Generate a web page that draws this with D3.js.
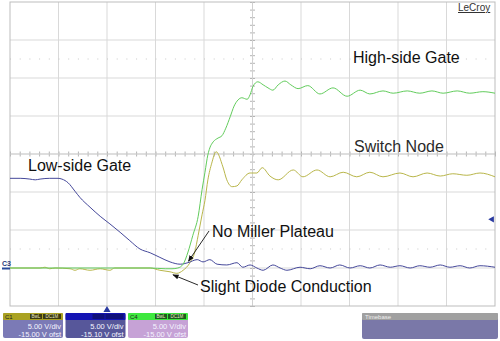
<!DOCTYPE html>
<html>
<head>
<meta charset="utf-8">
<style>
  body { margin: 0; background: #fff; }
  svg { display: block; font-family: "Liberation Sans", Arial, sans-serif; }
</style>
</head>
<body>
<script src="https://d3js.org/d3.v7.min.js"></script>
<script>
    // time in screen divisions (10 across), volts at 5 V/div, 0 V three divs under centre
    const switchNode = [
        [0, 0], [0.62, 0], [0.72, 0.1], [0.82, -0.1], [0.93, 0], [1.24, -0.1], [1.34, -0.3],
        [1.44, -0.1], [1.65, -0.3], [1.86, -0.1], [2.06, -0.3], [2.16, 0], [2.89, 0],
        [3.09, -0.3], [3.30, -0.5], [3.44, -0.7], [3.57, -0.3], [3.71, 0.7], [3.81, 2.1],
        [3.88, 4.3], [3.96, 7.0], [4.02, 8.9], [4.08, 11.6], [4.16, 13.8], [4.25, 15.3],
        [4.39, 13.3], [4.47, 11.6], [4.58, 10.7], [4.68, 10.8], [4.78, 11.6],
        [4.95, 12.5], [5.09, 12.5], [5.20, 13.2], [5.36, 12.1], [5.53, 11.6], [5.84, 12.9],
        [6.04, 12.0], [6.33, 12.9], [6.60, 12.0], [6.87, 12.6], [7.15, 12.0], [7.42, 12.6],
        [7.69, 12.0], [8.04, 12.5], [8.31, 12.0], [8.60, 12.5], [8.87, 12.1], [9.13, 12.4],
        [9.42, 12.2], [9.69, 12.5], [10, 12.0]
    ];

    const lowSideGate = [
        [0, 11.8], [0.21, 11.8], [0.41, 11.7], [0.52, 11.6], [0.62, 11.7], [0.82, 11.8],
        [0.99, 11.8], [1.07, 11.7], [1.20, 11.2], [1.34, 10.1], [1.44, 9.3], [1.65, 8.0],
        [1.86, 6.8], [2.06, 5.8], [2.27, 4.7], [2.47, 3.6], [2.68, 2.5], [2.89, 2.0],
        [3.09, 1.4], [3.30, 0.8], [3.51, 0.5], [3.67, 0.7], [3.86, 1.1], [3.98, 0.8],
        [4.12, 1.1], [4.27, 0.5], [4.47, 0.4], [4.68, 0.7], [4.80, 0.1], [4.95, 0.4],
        [5.09, 0], [5.22, -0.3], [5.42, 0.4], [5.57, 0], [5.71, -0.3], [5.98, 0.1],
        [6.19, -0.1], [6.39, 0.3], [6.60, 0], [6.80, 0.4], [7.01, 0], [7.22, 0.3],
        [7.42, 0], [7.63, 0.4], [7.84, 0.1], [8.04, 0.3], [8.25, 0], [8.45, 0.3],
        [8.66, 0.1], [8.87, 0.4], [9.07, 0.1], [9.28, 0.3], [9.48, 0], [9.69, 0.3], [10, 0.1]
    ];

    const highSideGate = [
        [0, 0], [0.82, 0], [1.86, 0], [2.89, 0], [3.20, -0.1], [3.34, -0.1], [3.46, 0],
        [3.57, 0.5], [3.67, 2.1], [3.77, 4.3], [3.88, 6.8], [3.96, 10.3], [4.02, 12.6],
        [4.08, 14.9], [4.12, 15.8], [4.19, 16.6], [4.29, 17.1], [4.37, 17.4], [4.45, 18.4],
        [4.54, 19.9], [4.62, 21.3], [4.70, 22.1], [4.78, 22.4], [4.89, 22.2], [4.95, 22.8],
        [5.01, 23.9], [5.11, 24.5], [5.22, 24.1], [5.32, 23.7], [5.42, 23.4], [5.53, 24.1],
        [5.67, 24.6], [5.79, 24.1], [5.94, 23.6], [6.14, 24.0], [6.39, 22.9], [6.66, 23.7],
        [6.95, 22.6], [7.22, 23.4], [7.42, 22.9], [7.69, 23.3], [7.90, 23.0], [8.19, 23.3],
        [8.45, 23.0], [8.70, 23.3], [8.93, 23.0], [9.22, 23.3], [9.48, 23.0], [9.75, 23.2], [10, 23.0]
    ];

    const channelNames = ["C1", "C2", "C4"];
    const voltsPerDiv = ["5.00 V/div", "5.00 V/div", "5.00 V/div"];
    const offsets = ["-15.00 V ofst", "-15.10 V ofst", "-15.00 V ofst"];
    const cursorLevels = [27.5, 2.5];
    const triggerTime = 2;
    const triggerLevel = 6.4;

    const width = 500;
    const height = 341;
    const plotLeft = 10, plotRight = 495, plotTop = 2, plotBottom = 306;

    const xScale = d3.scaleLinear().domain([0, 10]).range([plotLeft, plotRight]);
    const yScale = d3.scaleLinear().domain([-5, 35]).range([plotBottom, plotTop]);

    const svg = d3.select("body")
        .append("svg")
        .attr("width", width)
        .attr("height", height);

    svg.append("rect").attr("width", width).attr("height", height).attr("fill", "#fff");

    // graticule
    const grid = svg.append("g").attr("stroke", "#d9d9d9").attr("stroke-width", 1);
    grid.selectAll("line.v")
        .data(d3.range(1, 10))
        .enter().append("line")
        .attr("x1", d => xScale(d)).attr("x2", d => xScale(d))
        .attr("y1", plotTop).attr("y2", plotBottom);
    grid.selectAll("line.h")
        .data(d3.range(0, 35, 5))
        .enter().append("line")
        .attr("x1", plotLeft).attr("x2", plotRight)
        .attr("y1", d => yScale(d)).attr("y2", d => yScale(d));

    svg.selectAll("line.cursor")
        .data(cursorLevels)
        .enter().append("line")
        .attr("x1", plotLeft).attr("x2", plotRight)
        .attr("y1", d => yScale(d)).attr("y2", d => yScale(d))
        .attr("stroke", "#c8c8c8")
        .attr("stroke-dasharray", "1,8.7");

    // minor ticks on the centre axes
    const xAxis = d3.axisBottom(xScale)
        .tickValues(d3.range(0, 10.01, 0.2))
        .tickSize(5).tickFormat("");
    svg.append("g")
        .attr("transform", "translate(0," + (yScale(15) - 2.5) + ")")
        .call(xAxis)
        .call(g => g.select(".domain").remove())
        .selectAll("line").attr("stroke", "#b4b4b4");

    const yAxis = d3.axisRight(yScale)
        .tickValues(d3.range(-5, 35.01, 1))
        .tickSize(5).tickFormat("");
    svg.append("g")
        .attr("transform", "translate(" + (xScale(5) - 2.5) + ",0)")
        .call(yAxis)
        .call(g => g.select(".domain").remove())
        .selectAll("line").attr("stroke", "#b4b4b4");

    svg.append("line")
        .attr("x1", plotLeft).attr("x2", plotRight)
        .attr("y1", yScale(15)).attr("y2", yScale(15))
        .attr("stroke", "#d0d0d0");
    svg.append("line")
        .attr("x1", xScale(5)).attr("x2", xScale(5))
        .attr("y1", plotTop).attr("y2", plotBottom)
        .attr("stroke", "#d0d0d0");

    svg.append("rect")
        .attr("x", plotLeft).attr("y", plotTop)
        .attr("width", plotRight - plotLeft).attr("height", plotBottom - plotTop)
        .attr("fill", "none").attr("stroke", "#bdbdbd");

    // traces
    const line = d3.line()
        .x(d => xScale(d[0]))
        .y(d => yScale(d[1]))
        .curve(d3.curveMonotoneX);

    svg.append("path").datum(switchNode)
        .attr("d", line).attr("fill", "none")
        .attr("stroke", "#b9b64a").attr("stroke-width", 1);
    svg.append("path").datum(lowSideGate)
        .attr("d", line).attr("fill", "none")
        .attr("stroke", "#45489a").attr("stroke-width", 1);
    svg.append("path").datum(highSideGate)
        .attr("d", line).attr("fill", "none")
        .attr("stroke", "#62cc5c").attr("stroke-width", 1);

    // markers
    svg.append("text").text("C3")
        .attr("x", 2).attr("y", yScale(0) - 2.5)
        .attr("font-size", 7).attr("font-weight", "bold").attr("fill", "#2a3a7a");
    svg.append("line")
        .attr("x1", 2).attr("x2", plotLeft).attr("y1", yScale(0) + 0.5).attr("y2", yScale(0) + 0.5)
        .attr("stroke", "#2a4a9a").attr("stroke-width", 2);

    svg.append("path")
        .attr("d", d3.symbol(d3.symbolTriangle, 22))
        .attr("transform", "translate(" + xScale(triggerTime) + "," + (plotBottom + 4) + ")")
        .attr("fill", "#2a3aa0");
    svg.append("path")
        .attr("d", d3.symbol(d3.symbolTriangle, 18))
        .attr("transform", "translate(" + (plotRight - 3) + "," + yScale(triggerLevel) + ") rotate(-90)")
        .attr("fill", "#2a3aa0");

    // labels and arrows
    svg.append("defs").append("marker")
        .attr("id", "head")
        .attr("viewBox", "0 0 10 10")
        .attr("refX", 9).attr("refY", 5)
        .attr("markerWidth", 7).attr("markerHeight", 7)
        .attr("orient", "auto")
        .append("path").attr("d", "M0,1L10,5L0,9Z").attr("fill", "#111");

    svg.append("line")
        .attr("x1", 209).attr("y1", 231)
        .attr("x2", xScale(3.68)).attr("y2", yScale(0.9))
        .attr("stroke", "#111").attr("stroke-width", 0.9)
        .attr("marker-end", "url(#head)");
    svg.append("line")
        .attr("x1", 198).attr("y1", 285)
        .attr("x2", xScale(3.36)).attr("y2", yScale(-0.9))
        .attr("stroke", "#111").attr("stroke-width", 0.9)
        .attr("marker-end", "url(#head)");

    const labels = svg.append("g").attr("font-size", 16).attr("fill", "#111");
    labels.append("text").text("High-side Gate").attr("x", 353).attr("y", 63);
    labels.append("text").text("Switch Node").attr("x", 354).attr("y", 152).attr("fill", "#2a2a2a");
    labels.append("text").text("Low-side Gate").attr("x", 28).attr("y", 171);
    labels.append("text").text("No Miller Plateau").attr("x", 212).attr("y", 237);
    labels.append("text").text("Slight Diode Conduction").attr("x", 200).attr("y", 292);

    svg.append("text").text("LeCroy")
        .attr("x", 458).attr("y", 11)
        .attr("font-size", 10).attr("fill", "#333")
        .attr("text-decoration", "underline");

    // channel descriptor boxes
    const headColors = ["#aaa222", "#1414b4", "#3ee83e"];
    const bodyColors = ["#7b7ab6", "#57579a", "#c6a2d6"];
    const badgeColors = ["#3c3a12", "#10107a", "#1f5a1f"];

    const boxes = svg.selectAll("g.chan")
        .data(channelNames)
        .enter().append("g")
        .attr("transform", (d, i) => "translate(" + (3 + i * 62.5) + ",313)");

    boxes.append("rect")
        .attr("width", 60).attr("height", 25).attr("rx", 2)
        .attr("fill", (d, i) => bodyColors[i]);
    boxes.append("rect")
        .attr("width", 60).attr("height", 7).attr("rx", 1)
        .attr("fill", (d, i) => headColors[i]);
    boxes.append("text")
        .text((d, i) => i === 1 ? "" : d)
        .attr("x", 2).attr("y", 6)
        .attr("font-size", 6).attr("fill", "#222");
    [["BwL", 27, 12], ["DC1M", 40, 18]].forEach(([label, bx, bw]) => {
        boxes.append("rect")
            .attr("x", bx).attr("y", 1).attr("width", bw).attr("height", 5)
            .attr("fill", (d, i) => badgeColors[i]);
        boxes.append("text")
            .text((d, i) => i === 1 ? "" : label)
            .attr("x", bx + bw / 2).attr("y", 5.3)
            .attr("text-anchor", "middle")
            .attr("font-size", 4.5).attr("fill", "#e8e8c8");
    });
    boxes.append("text")
        .text((d, i) => voltsPerDiv[i])
        .attr("x", 58).attr("y", 16)
        .attr("text-anchor", "end")
        .attr("font-size", 7.5).attr("fill", "#f4f4ff");
    boxes.append("text")
        .text((d, i) => offsets[i])
        .attr("x", 58).attr("y", 23.5)
        .attr("text-anchor", "end")
        .attr("font-size", 7.5).attr("fill", "#f4f4ff");

    // timebase box
    const tb = svg.append("g").attr("transform", "translate(362,313)");
    tb.append("rect").attr("width", 136).attr("height", 26).attr("rx", 2).attr("fill", "#7a78a8");
    tb.append("rect").attr("width", 136).attr("height", 7).attr("rx", 1).attr("fill", "#a0a0a0");
    tb.append("text").text("Timebase")
        .attr("x", 3).attr("y", 6)
        .attr("font-size", 6).attr("fill", "#eee");
</script>
</body>
</html>
